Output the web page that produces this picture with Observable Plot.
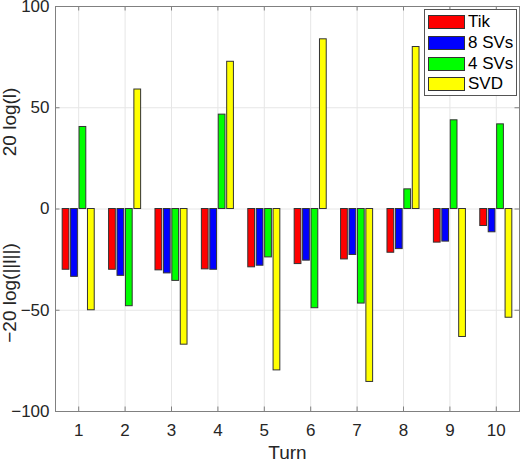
<!DOCTYPE html>
<html>
<head>
<meta charset="utf-8">
<script src="https://cdn.jsdelivr.net/npm/d3@7"></script>
<script src="https://cdn.jsdelivr.net/npm/@observablehq/plot@0.6"></script>
<style>
  html, body { margin: 0; padding: 0; background: #fff; }
  #wrap { position: relative; width: 520px; height: 462px; font-family: "Liberation Sans", Arial, sans-serif; }
  #legend { position: absolute; left: 424px; top: 9px; width: 91px; height: 85px; border: 1px solid #555; background: #fff; }
  .row { position: absolute; left: 3px; height: 16px; display: flex; align-items: center; }
  .sw { width: 37px; height: 14px; border: 1px solid #333; box-sizing: border-box; margin-right: 3px; }
  .lab { font-size: 17px; color: #000; line-height: 16px; }
</style>
</head>
<body>
<div id="wrap"></div>
<script>
const turns = [1, 2, 3, 4, 5, 6, 7, 8, 9, 10];
const seriesNames = ["Tik", "8 SVs", "4 SVs", "SVD"];
const seriesColors = ["#ff0000", "#0000ff", "#00ff00", "#ffff00"];
const tik  = [-30, -30, -30.3, -29.8, -28.8, -27.2, -24.9, -21.6, -16.6, -8.4];
const sv8  = [-33.5, -33, -31.8, -30, -28, -25.5, -22.7, -19.8, -16.1, -11.5];
const sv4  = [40.5, -48, -35.5, 46.6, -23.9, -49, -46.7, 9.7, 43.8, 41.8];
const svd  = [-50, 59, -67, 72.7, -79.7, 83.8, -85.4, 80, -63.2, -53.7];
const yTicks = [-100, -50, 0, 50, 100];
const yGrid = [-50, 0, 50];

const seriesValues = [tik, sv8, sv4, svd];
const groupWidth = 0.727;
const step = groupWidth / seriesNames.length;
const barW = step * 0.8;
const rows = [];
seriesValues.forEach((vals, si) => {
  vals.forEach((v, ti) => {
    rows.push({turn: turns[ti], series: seriesNames[si], si, value: v});
  });
});
const cx = d => d.turn + (d.si - (seriesNames.length - 1) / 2) * step;

const xDom = [0.5, 10.5], yDom = [-100, 100];
const W = 520, H = 462, mL = 55, mR = 1, mT = 6, mB = 51;
const tickPx = 4.5;
const tx = tickPx * (xDom[1] - xDom[0]) / (W - mL - mR);
const ty = tickPx * (yDom[1] - yDom[0]) / (H - mT - mB);
const axisColor = "#808080";
const gridColor = "#e6e6e6";

const chart = Plot.plot({
  width: W, height: H,
  marginLeft: mL, marginRight: mR, marginTop: mT, marginBottom: mB,
  style: {fontFamily: "'Liberation Sans', Arial, sans-serif", fontSize: "17px", color: "#262626", background: "#fff"},
  x: {domain: xDom},
  y: {domain: yDom},
  marks: [
    Plot.ruleX(turns, {stroke: gridColor, strokeWidth: 1}),
    Plot.ruleY(yGrid, {stroke: gridColor, strokeWidth: 1}),
    Plot.rectY(rows, {
      x1: d => cx(d) - barW / 2,
      x2: d => cx(d) + barW / 2,
      y1: 0, y2: "value",
      fill: d => seriesColors[d.si],
      stroke: "#333", strokeWidth: 1
    }),
    Plot.frame({stroke: axisColor, strokeWidth: 1}),
    Plot.ruleX(turns, {y1: yDom[0], y2: yDom[0] + ty, stroke: axisColor}),
    Plot.ruleX(turns, {y1: yDom[1] - ty, y2: yDom[1], stroke: axisColor}),
    Plot.ruleY(yTicks, {x1: xDom[0], x2: xDom[0] + tx, stroke: axisColor}),
    Plot.ruleY(yTicks, {x1: xDom[1] - tx, x2: xDom[1], stroke: axisColor}),
    Plot.axisX(turns, {tickSize: 0, tickPadding: 12, label: null, fontSize: 17, fill: "#262626"}),
    Plot.axisY(yTicks, {tickSize: 0, tickPadding: 6, label: null, fontSize: 17, fill: "#262626"}),
    Plot.text(["Turn"], {frameAnchor: "bottom", lineAnchor: "middle", dy: 41, fontSize: 19, fill: "#262626"}),
    Plot.text(["20 log(l)"], {x: xDom[0], y: 43, dx: -46, rotate: -90, fontSize: 19, fill: "#262626"}),
    Plot.text(["\u221220 log(||l||)"], {x: xDom[0], y: -41.5, dx: -46, rotate: -90, fontSize: 19, fill: "#262626"})
  ]
});

const wrap = document.getElementById("wrap");
wrap.appendChild(chart);
const legend = document.createElement("div");
legend.id = "legend";
seriesNames.forEach((name, i) => {
  const r = document.createElement("div");
  r.className = "row";
  r.style.top = (4 + i * 20.8) + "px";
  const sw = document.createElement("div");
  sw.className = "sw";
  sw.style.background = seriesColors[i];
  const lab = document.createElement("span");
  lab.className = "lab";
  lab.textContent = name;
  r.appendChild(sw); r.appendChild(lab);
  legend.appendChild(r);
});
wrap.appendChild(legend);
</script>
</body>
</html>
